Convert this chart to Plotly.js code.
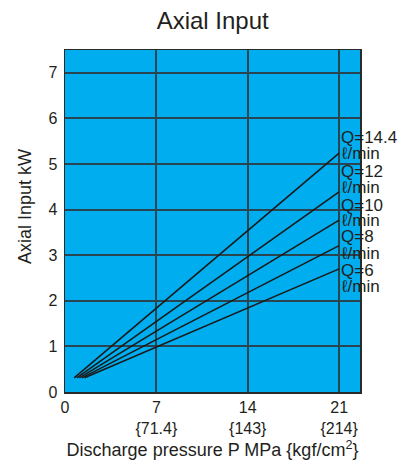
<!DOCTYPE html>
<html>
<head>
<meta charset="utf-8">
<script src="https://cdn.plot.ly/plotly-3.0.1.min.js"></script>
<style>html,body{margin:0;padding:0;background:#fff;}#chart{width:417px;height:464px;}</style>
</head>
<body>
<div id="chart"></div>
<script>
// Flow rates (ℓ/min) and the curves
const flowLabels = ["Q=14.4", "Q=12", "Q=10", "Q=8", "Q=6"];
const unitLabel = "ℓ/min";
const startPressure = [0.7, 0.9, 1.1, 1.3, 1.5];   // MPa
const startPower = [0.31, 0.31, 0.31, 0.31, 0.31]; // kW
const endPressure = [21, 21, 21, 21, 21];          // MPa
const endPower = [5.24, 4.39, 3.77, 3.21, 2.70];   // kW

const xTickVals = [0, 7, 14, 21];
const xTickText = ["0", "7<br>{71.4}", "14<br>{143}", "21<br>{214}"];
const yTickVals = [0, 1, 2, 3, 4, 5, 6, 7];

const textColor = "#231f20";
const font = "Liberation Sans, Arial, Helvetica, sans-serif";

const traces = flowLabels.map((name, i) => ({
  type: "scatter",
  mode: "lines",
  name: name,
  x: [startPressure[i], endPressure[i]],
  y: [startPower[i], endPower[i]],
  line: {color: "#1a1a1a", width: 1.6},
  showlegend: false,
  hoverinfo: "skip"
}));

// label positions (layout only)
const labelY = [[5.574, 5.223], [4.828, 4.477], [4.082, 3.753], [3.401, 3.028], [2.655, 2.304]];
const annotations = [];
flowLabels.forEach((name, i) => {
  annotations.push({x: 21, y: labelY[i][0], xref: "x", yref: "y", text: name, showarrow: false,
    xanchor: "left", yanchor: "middle", xshift: 1, borderpad: 0,
    font: {family: font, size: 17, color: textColor}});
  annotations.push({x: 21, y: labelY[i][1], xref: "x", yref: "y", text: unitLabel, showarrow: false,
    xanchor: "left", yanchor: "middle", xshift: 1, borderpad: 0,
    font: {family: font, size: 17, color: textColor}});
});
// y-axis title placed as an annotation (pixel position converted to paper coords)
annotations.push({
  x: (25 - 65) / 295, y: (392 - 207) / 342, xref: "paper", yref: "paper",
  xanchor: "center", yanchor: "middle",
  text: "Axial Input kW", showarrow: false, textangle: -90,
  font: {family: font, size: 18, color: textColor}
});

const layout = {
  width: 417, height: 464,
  margin: {l: 65, r: 57, t: 50, b: 72, pad: 0},
  paper_bgcolor: "#ffffff",
  plot_bgcolor: "#00aeef",
  font: {family: font, color: textColor, size: 16},
  title: {text: "Axial Input", x: 0.51, xanchor: "center", y: 0.955, yanchor: "middle",
    font: {family: font, size: 24, color: textColor}},
  xaxis: {
    range: [0, 22.6], tickvals: xTickVals, ticktext: xTickText,
    showgrid: true, gridcolor: "#2a4552", gridwidth: 2,
    showline: true, linecolor: "#2a2a2a", linewidth: 1.5, mirror: true,
    zeroline: false, ticks: "", ticklen: 0,
    tickfont: {family: font, size: 16, color: textColor},
    title: {text: "Discharge pressure P MPa {kgf/cm<sup>2</sup>}", standoff: 8,
      font: {family: font, size: 18, color: textColor}},
    fixedrange: true
  },
  yaxis: {
    range: [0, 7.5], tickvals: yTickVals,
    showgrid: true, gridcolor: "#2a4552", gridwidth: 2,
    showline: true, linecolor: "#2a2a2a", linewidth: 1.5, mirror: true,
    zeroline: false, ticks: "outside", ticklen: 3, tickcolor: "rgba(0,0,0,0)",
    tickfont: {family: font, size: 16, color: textColor},
    fixedrange: true
  },
  annotations: annotations,
  showlegend: false
};

Plotly.newPlot("chart", traces, layout, {staticPlot: true, displayModeBar: false});
</script>
</body>
</html>
